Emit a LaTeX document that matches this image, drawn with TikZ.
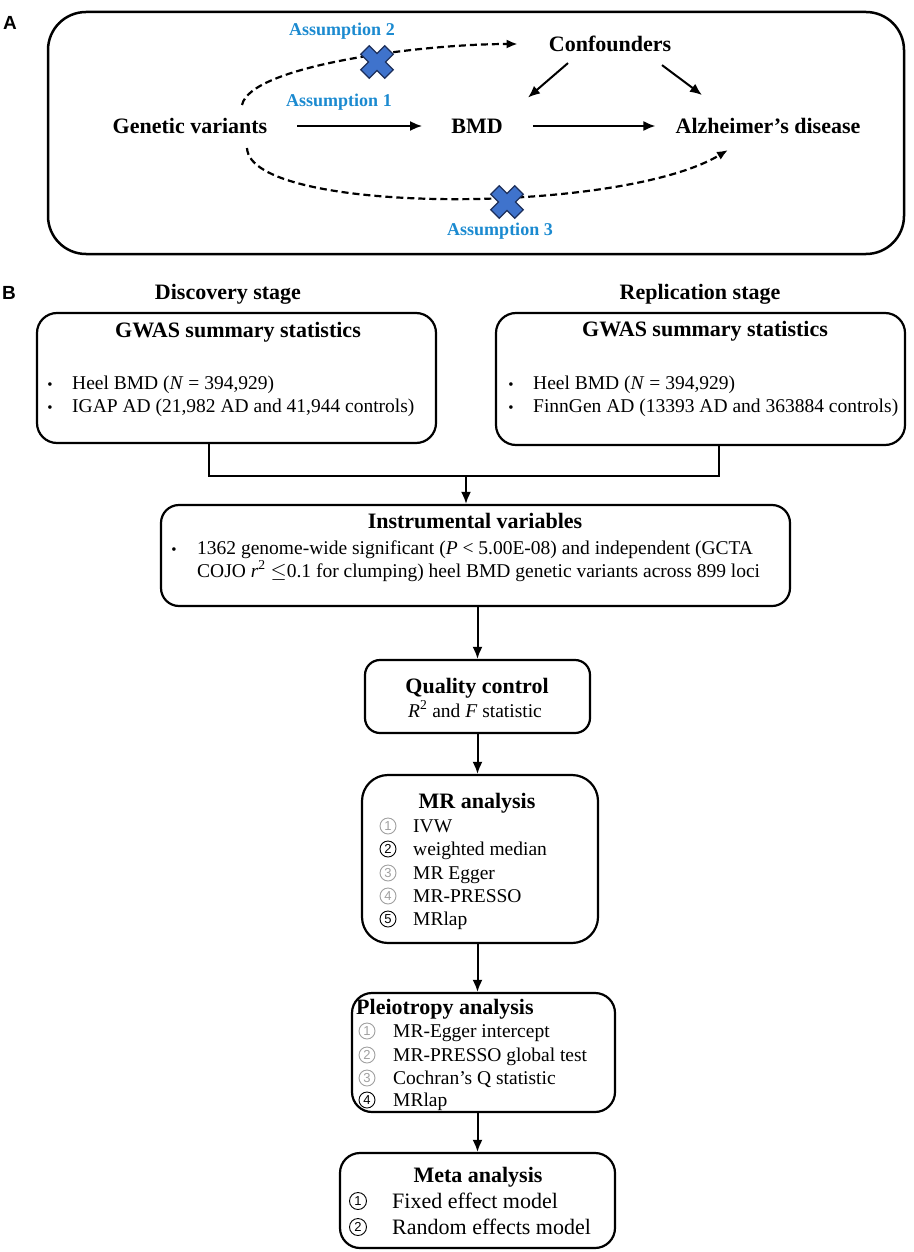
\documentclass[tikz,border=0pt]{standalone}
\usepackage{fontspec}
\setmainfont{Liberation Serif}
\newfontfamily\panelfont{Liberation Sans}
\usetikzlibrary{arrows.meta,positioning}

\definecolor{assumblue}{HTML}{1B8AD0}
\definecolor{xfill}{HTML}{3F73CC}
\definecolor{xline}{HTML}{1C2E5A}
\definecolor{numgrey}{HTML}{A0A0A0}

\tikzset{
  panellabel/.style={font=\panelfont\fontsize{19}{22}\selectfont\bfseries, inner sep=0pt},
  headA/.style={font=\fontsize{22}{26}\selectfont\bfseries, inner sep=0pt},
  assum/.style={font=\fontsize{18}{22}\selectfont\bfseries, text=assumblue, inner sep=0pt},
  stage/.style={font=\fontsize{22}{26}\selectfont\bfseries, inner sep=0pt, anchor=base},
  boxtitle/.style={font=\fontsize{22}{26}\selectfont\bfseries, inner sep=0pt, anchor=base},
  plain/.style={font=\fontsize{19.5}{23}\selectfont, inner sep=0pt, anchor=base west},
  bigplain/.style={font=\fontsize{22}{26}\selectfont, inner sep=0pt, anchor=base west},
  bul/.style={font=\fontsize{15}{18}\selectfont, inner sep=0pt, anchor=base},
  % circled numbers
  num/.style={circle, draw, line width=0.9pt, minimum size=16pt, inner sep=0pt,
    font=\panelfont\fontsize{13}{14}\selectfont},
  greynum/.style={num, draw=numgrey, text=numgrey},
  panel/.style={draw, line width=2.5pt, rounded corners=38pt, inner sep=0pt},
  flowbox/.style={draw, line width=2.2pt, rounded corners=20pt, inner sep=0pt},
  arr/.style={line width=2pt, -{Latex[length=12pt,width=10pt]}},
  wire/.style={line width=2pt},
  dashline/.style={line width=2.2pt, dash pattern=on 7pt off 4pt, -{Latex[length=11pt,width=9pt]}},
  nox/.pic={
    \filldraw[fill=xfill, draw=xline, line width=1.2pt, rotate=45]
      (-6,-17) -- (6,-17) -- (6,-6) -- (17,-6) -- (17,6) -- (6,6) -- (6,17)
      -- (-6,17) -- (-6,6) -- (-17,6) -- (-17,-6) -- (-6,-6) -- cycle;
  }
}

\begin{document}
\begin{tikzpicture}[x=1pt, y=-1pt]
  \useasboundingbox (0,0) rectangle (913,1252);

  % ---- panel A
  \node[panellabel] (labA) at (10,23) {A};
  \node[panel, minimum width=856, minimum height=242] (frameA) at (476,133) {};

  \node[headA] (gv) at (190,126) {Genetic variants};
  \node[headA] (bmd) at (477,126) {BMD};
  \node[headA] (ad) at (768,126) {Alzheimer’s disease};
  \node[headA] (conf) at (610,44) {Confounders};

  \node[assum] (as2) at (342,31) {Assumption 2};
  \node[assum] (as1) at (339,102) {Assumption 1};
  \node[assum] (as3) at (500,231) {Assumption 3};

  % ends of the curved paths
  \coordinate (g2) at (242,105);
  \coordinate (g3) at (247,148);
  \coordinate (a3) at (728,150);

  \draw[arr, shorten <=30pt, shorten >=29pt] (gv) -- (bmd);
  \draw[arr, shorten <=30pt, shorten >=20pt] (bmd) -- (ad);
  \draw[arr] ([shift={(-42,11)}]conf.south) -- ([shift={(51,-21)}]bmd.north);
  \draw[arr] ([shift={(52,13)}]conf.south) -- ([shift={(-66,-23)}]ad.north);

  \draw[dashline, shorten >=31pt] (g2) .. controls (250,66) and (420,44) .. (conf.west);
  \draw[dashline] (g3) .. controls (250,215) and (620,215) .. (a3);

  \pic at (377,62) {nox};
  \pic at (507,202) {nox};

  % ---- panel B
  \node[panellabel] (labB) at (9,293) {B};
  \node[stage] (stdisc) at (228,299) {Discovery stage};
  \node[stage] (strep) at (700,299) {Replication stage};

  % discovery sources
  \node[flowbox, minimum width=399, minimum height=130] (gwasd) at (236.5,378) {};
  \node[boxtitle] (gwasdt) at (238,337) {GWAS summary statistics};
  \node[bul] (bd1) at (50,389) {•};
  \node[plain] (d1) at (72,389) {Heel BMD (\textit{N} = 394,929)};
  \node[bul] (bd2) at (50,412) {•};
  \node[plain] (d2) at (72,412) {IGAP AD (21,982 AD and 41,944 controls)};

  % replication sources
  \node[flowbox, minimum width=409, minimum height=132] (gwasr) at (700.5,379) {};
  \node[boxtitle] (gwasrt) at (705,336) {GWAS summary statistics};
  \node[bul] (br1) at (511,389) {•};
  \node[plain] (r1) at (533,389) {Heel BMD (\textit{N} = 394,929)};
  \node[bul] (br2) at (511,412) {•};
  \node[plain] (r2) at (533,412) {FinnGen AD (13393 AD and 363884 controls)};

  % instrumental variables
  \node[flowbox, minimum width=629, minimum height=101, rounded corners=18pt] (iv) at (475.5,555.5) {};
  \node[boxtitle] (ivt) at (475,528) {Instrumental variables};
  \node[bul] (bi1) at (174,554) {•};
  \node[plain] (i1) at (197,554) {1362 genome-wide significant (\textit{P} < 5.00E-08) and independent (GCTA};
  \node[plain] (i2) at (197,577) {COJO \textit{r}\textsuperscript{2} $\leq$0.1 for clumping) heel BMD genetic variants across 899 loci};

  \coordinate (join) at (466,476);
  \draw[wire] ([xshift=-27.5]gwasd.south) |- (join);
  \draw[wire] ([xshift=18.5]gwasr.south) |- (join);
  \draw[arr] (join) -- (join |- iv.north);

  % quality control
  \node[flowbox, minimum width=225, minimum height=73, rounded corners=15pt] (qc) at (477.5,696.5) {};
  \node[boxtitle] (qct) at (477,693) {Quality control};
  \node[plain, anchor=base] (qc1) at (475,717) {\textit{R}\textsuperscript{2} and \textit{F} statistic};

  % MR analysis
  \node[flowbox, minimum width=236, minimum height=168, rounded corners=26pt] (mr) at (480,859) {};
  \node[boxtitle] (mrt) at (477,808) {MR analysis};
  \node[greynum] (m1n) at (388,826) {1};
  \node[plain] (m1) at (413,832) {IVW};
  \node[num] (m2n) at (388,849) {2};
  \node[plain] (m2) at (413,855) {weighted median};
  \node[greynum] (m3n) at (388,873) {3};
  \node[plain] (m3) at (413,879) {MR Egger};
  \node[greynum] (m4n) at (388,896) {4};
  \node[plain] (m4) at (413,902) {MR-PRESSO};
  \node[num] (m5n) at (388,919) {5};
  \node[plain] (m5) at (413,925) {MRlap};

  % pleiotropy
  \node[flowbox, minimum width=263, minimum height=119] (pl) at (483.5,1052.5) {};
  \node[boxtitle, anchor=base west] (plt) at (356,1014) {Pleiotropy analysis};
  \node[greynum] (p1n) at (367,1031) {1};
  \node[plain] (p1) at (393,1037) {MR-Egger intercept};
  \node[greynum] (p2n) at (367,1055) {2};
  \node[plain] (p2) at (393,1061) {MR-PRESSO global test};
  \node[greynum] (p3n) at (367,1078) {3};
  \node[plain] (p3) at (393,1084) {Cochran’s Q statistic};
  \node[num] (p4n) at (367,1100) {4};
  \node[plain] (p4) at (393,1106) {MRlap};

  % meta analysis
  \node[flowbox, minimum width=275, minimum height=95] (meta) at (477.5,1200.5) {};
  \node[boxtitle] (metat) at (478,1182) {Meta analysis};
  \node[num, minimum size=17pt] (e1n) at (358,1201) {1};
  \node[bigplain] (e1) at (392,1208) {Fixed effect model};
  \node[num, minimum size=17pt] (e2n) at (358,1227) {2};
  \node[bigplain] (e2) at (392,1234) {Random effects model};

  \draw[arr] (qc.north |- iv.south) -- (qc.north);
  \draw[arr] (qc.south) -- (qc.south |- mr.north);
  \draw[arr] (qc.south |- mr.south) -- (qc.south |- pl.north);
  \draw[arr] (qc.south |- pl.south) -- (qc.south |- meta.north);
\end{tikzpicture}
\end{document}
